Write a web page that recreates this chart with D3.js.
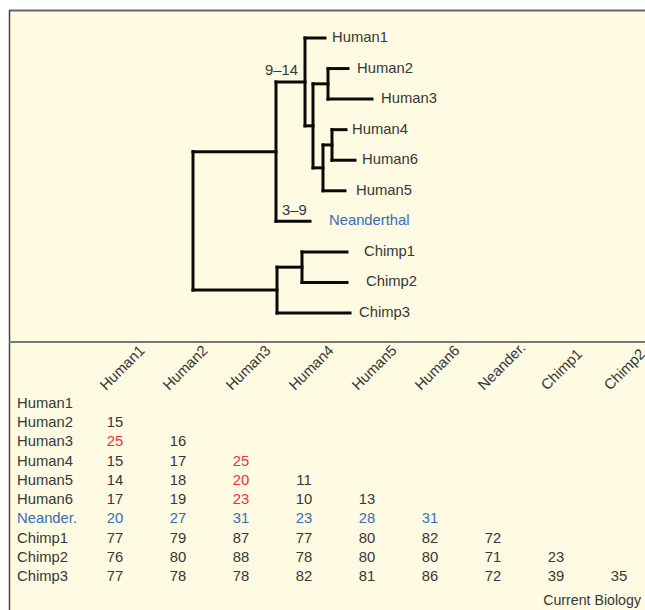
<!DOCTYPE html>
<html>
<head>
<meta charset="utf-8">
<script src="https://cdn.jsdelivr.net/npm/d3@7"></script>
<style>
  body { margin: 0; background: #fff; }
  svg { display: block; font-family: "Liberation Sans", Arial, sans-serif; }
</style>
</head>
<body>
<svg id="chart" width="645" height="610"></svg>
<script>
// tree: node, parent, branch length (arbitrary units)
const nodeIds = ['root', 'HN', 'Humans', 'Human1', 'H2to6', 'H23', 'Human2', 'Human3',
  'H456', 'H46', 'Human4', 'Human6', 'Human5', 'Neanderthal', 'Chimps', 'C12', 'Chimp1', 'Chimp2', 'Chimp3'];
const parentIds = ['', 'root', 'HN', 'Humans', 'Humans', 'H2to6', 'H23', 'H23',
  'H2to6', 'H456', 'H46', 'H46', 'H456', 'HN', 'root', 'Chimps', 'C12', 'C12', 'Chimps'];
const branchLengths = [0, 83, 29, 20, 8, 15, 20, 44, 10, 9, 14, 23, 22, 34, 84, 25, 45, 45, 73];

const branchNotes = ['9–14', '3–9'];
const branchNoteNodes = ['Humans', 'Neanderthal'];

// distance matrix (lower triangle)
const rowNames = ['Human1', 'Human2', 'Human3', 'Human4', 'Human5', 'Human6', 'Neander.', 'Chimp1', 'Chimp2', 'Chimp3'];
const colNames = ['Human1', 'Human2', 'Human3', 'Human4', 'Human5', 'Human6', 'Neander.', 'Chimp1', 'Chimp2'];
const distances = [
  [],
  [15],
  [25, 16],
  [15, 17, 25],
  [14, 18, 20, 11],
  [17, 19, 23, 10, 13],
  [20, 27, 31, 23, 28, 31],
  [77, 79, 87, 77, 80, 82, 72],
  [76, 80, 88, 78, 80, 80, 71, 23],
  [77, 78, 78, 82, 81, 86, 72, 39, 35]
];
// pairs printed in red
const redPairs = [['Human3', 'Human1'], ['Human4', 'Human3'], ['Human5', 'Human3'], ['Human6', 'Human3']];
const blueRow = 'Neander.';

const TEXT = '#373737', RED = '#e4373b', BLUE = '#3a6cb4', BG = '#fefbe2';

const svg = d3.select('#chart');

// panel
svg.append('rect').attr('x', 9).attr('y', 10).attr('width', 645).attr('height', 610)
  .attr('fill', BG);
svg.append('line').attr('x1', 9).attr('x2', 645).attr('y1', 10.5).attr('y2', 10.5)
  .attr('stroke', '#666').attr('stroke-width', 2);
svg.append('line').attr('x1', 9.5).attr('x2', 9.5).attr('y1', 10).attr('y2', 610)
  .attr('stroke', '#444').attr('stroke-width', 1.5);
svg.append('line').attr('x1', 9).attr('x2', 645).attr('y1', 342).attr('y2', 342)
  .attr('stroke', '#7a7a72').attr('stroke-width', 2);

// ---- tree ----
const table = nodeIds.map((id, i) => ({ id, parent: parentIds[i] || null, len: branchLengths[i] }));
const root = d3.stratify().id(d => d.id).parentId(d => d.parent)(table);
root.eachBefore(n => { n.dist = n.parent ? n.parent.dist + n.data.len : 0; });

const leaves = root.leaves();
const x = d3.scaleLinear().domain([0, 180]).range([193, 373]);
const yLeaf = d3.scalePoint().domain(leaves.map(d => d.id)).range([38, 313]);
root.eachAfter(n => {
  n.py = n.children ? (n.children[0].py + n.children[n.children.length - 1].py) / 2 : yLeaf(n.id);
  n.px = x(n.dist);
});

const tree = svg.append('g')
  .attr('stroke', '#0a0a0a')
  .attr('stroke-width', 3)
  .attr('stroke-linecap', 'square');

// verticals at each internal node
tree.selectAll('line.v')
  .data(root.descendants().filter(d => d.children))
  .join('line')
  .attr('class', 'v')
  .attr('x1', d => d.px).attr('x2', d => d.px)
  .attr('y1', d => d.children[0].py)
  .attr('y2', d => d.children[d.children.length - 1].py);

// horizontals for each branch
tree.selectAll('line.h')
  .data(root.descendants().filter(d => d.parent))
  .join('line')
  .attr('class', 'h')
  .attr('x1', d => d.parent.px).attr('x2', d => d.px)
  .attr('y1', d => d.py).attr('y2', d => d.py);

const labels = svg.append('g').attr('font-size', 14.8);
const labelGap = { Human1: 7, Human2: 9, Human3: 9, Human4: 6, Human6: 7, Human5: 11,
  Neanderthal: 19, Chimp1: 17, Chimp2: 19, Chimp3: 9 };
labels.selectAll('text.leaf')
  .data(leaves)
  .join('text')
  .attr('class', 'leaf')
  .attr('x', d => d.px + (labelGap[d.id] || 7))
  .attr('y', d => d.py + 4)
  .attr('fill', d => d.id === 'Neanderthal' ? BLUE : TEXT)
  .text(d => d.id);

const byId = new Map(root.descendants().map(d => [d.id, d]));
branchNotes.forEach((t, i) => {
  const n = byId.get(branchNoteNodes[i]);
  const atEnd = i === 0;
  labels.append('text')
    .attr('x', atEnd ? n.px - 7 : n.parent.px + 6)
    .attr('y', n.py - 6.5)
    .attr('text-anchor', atEnd ? 'end' : 'start')
    .attr('fill', TEXT)
    .text(t);
});

// ---- matrix ----
const col = d3.scalePoint().domain(colNames).range([115, 619]);
const row = d3.scalePoint().domain(rowNames).range([408, 581]);
const isRed = (r, c) => redPairs.some(p => p[0] === r && p[1] === c);
const colour = (r, c) => r === blueRow ? BLUE : isRed(r, c) ? RED : TEXT;

const mat = svg.append('g').attr('font-size', 14.8);
mat.selectAll('text.head')
  .data(colNames)
  .join('text')
  .attr('class', 'head')
  .attr('transform', d => `translate(${col(d) - 9},391) rotate(-45)`)
  .attr('fill', TEXT)
  .text(d => d);

mat.selectAll('text.rowlab')
  .data(rowNames)
  .join('text')
  .attr('class', 'rowlab')
  .attr('x', 17)
  .attr('y', d => row(d))
  .attr('fill', d => d === blueRow ? BLUE : TEXT)
  .text(d => d);

const cells = distances.flatMap((vals, r) =>
  vals.map((v, c) => ({ r: rowNames[r], c: colNames[c], v })));
mat.selectAll('text.cell')
  .data(cells)
  .join('text')
  .attr('class', 'cell')
  .attr('x', d => col(d.c))
  .attr('y', d => row(d.r))
  .attr('text-anchor', 'middle')
  .attr('fill', d => colour(d.r, d.c))
  .text(d => d.v);

svg.append('text')
  .attr('x', 641).attr('y', 605)
  .attr('text-anchor', 'end')
  .attr('font-size', 14.2)
  .attr('fill', TEXT)
  .text('Current Biology');
</script>
</body>
</html>
